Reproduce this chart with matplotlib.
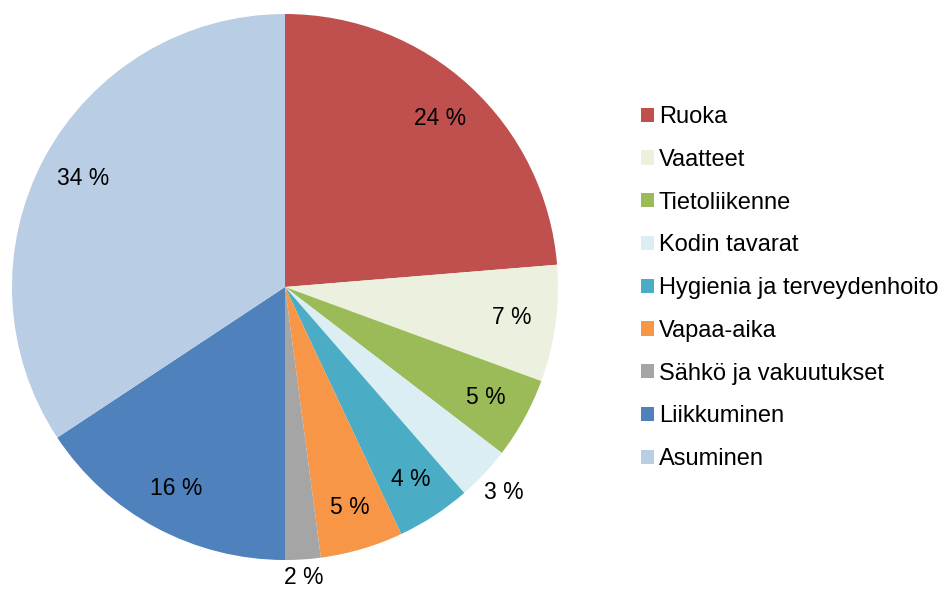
import numpy as np
import matplotlib.pyplot as plt
from matplotlib.patches import Patch

plt.rcParams['font.family'] = ['Liberation Sans', 'DejaVu Sans']

# kategoriat ja osuudet (%)
categories = ['Ruoka', 'Vaatteet', 'Tietoliikenne', 'Kodin tavarat',
              'Hygienia ja terveydenhoito', 'Vapaa-aika', 'Sähkö ja vakuutukset',
              'Liikkuminen', 'Asuminen']
values = [23.7, 6.9, 4.8, 3.2, 4.4, 4.9, 2.1, 15.7, 34.3]
labels = ['24 %', '7 %', '5 %', '3 %', '4 %', '5 %', '2 %', '16 %', '34 %']
colors = ['#C0504D', '#EBF1DE', '#9BBB59', '#DBEEF4', '#4BACC6',
          '#F79646', '#A5A5A5', '#4F81BD', '#B9CDE5']
outside = {3: 1.10, 6: 1.065}

fig = plt.figure(figsize=(9.45, 5.89), dpi=100)
ax = fig.add_axes([12 / 945, 29 / 589, 546 / 945, 546 / 589])

wedges, _ = ax.pie(values, colors=colors, startangle=90, counterclock=False,
                   radius=1.0, wedgeprops=dict(linewidth=0))
ax.set_xlim(-1, 1)
ax.set_ylim(-1, 1)
ax.set_aspect('equal')

for i, w in enumerate(wedges):
    ang = np.deg2rad((w.theta1 + w.theta2) / 2)
    r = outside.get(i, 0.84)
    ax.text(r * np.cos(ang), r * np.sin(ang), labels[i], ha='center', va='center',
            fontsize=16.5, color='black', clip_on=False)

handles = [Patch(facecolor=c, edgecolor='none') for c in colors]
fig.legend(handles, categories, loc='upper left', bbox_to_anchor=(641 / 945, 1 - 106 / 589),
           frameon=False, fontsize=17, handlelength=0.55, handleheight=0.55,
           handletextpad=0.2, labelspacing=0.88, borderpad=0, borderaxespad=0)

fig.savefig('out.png', dpi=100)
